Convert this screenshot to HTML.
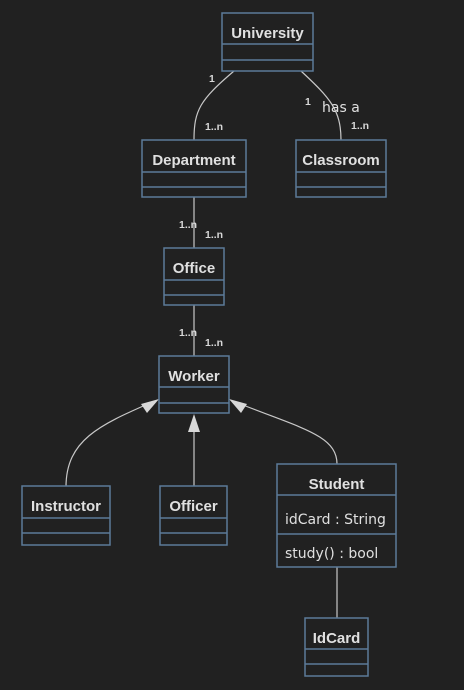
<!DOCTYPE html>
<html><head><meta charset="utf-8"><style>
html,body{margin:0;padding:0;background:#212121;}
svg{display:block}
.b{fill:#212121;stroke:#5c7b99;stroke-width:1.5}
.d{stroke:#5c7b99;stroke-width:1.5}
.t{font-family:"Liberation Sans",sans-serif;font-weight:bold;font-size:15px;fill:#e0e0e0;text-anchor:middle}
.m{font-family:"DejaVu Sans","Liberation Sans",sans-serif;font-size:14px;fill:#e0e0e0}
.l{font-family:"Liberation Sans",sans-serif;font-size:10.5px;fill:#d8d8d8;font-weight:bold}
.e{fill:none;stroke:#c8c8c8;stroke-width:1.2}
.a{fill:#d8d8d8;stroke:none}
</style></head><body>
<svg width="464" height="690" viewBox="0 0 464 690">
<path class="e" d="M234,71 C200,100 194,110 194,140"/>
<path class="e" d="M301,71 C330,98 341,110 341,140"/>
<line class="e" x1="194" y1="197" x2="194" y2="248"/>
<line class="e" x1="194" y1="305" x2="194" y2="356"/>
<path class="e" d="M66,487 C66,440 100,425 150,403"/>
<line class="e" x1="194" y1="487" x2="194" y2="430"/>
<path class="e" d="M337,464 C337,435 300,428 238,403"/>
<line class="e" x1="337" y1="567" x2="337" y2="618"/>
<polygon class="a" points="159,399 141,404 147,413"/>
<polygon class="a" points="194,414 188,432 200,432"/>
<polygon class="a" points="229,399 241,413 247,404"/>
<text class="l" x="209" y="82">1</text>
<text class="l" x="205" y="130">1..n</text>
<text class="l" x="305" y="105">1</text>
<text class="m" x="322" y="112">has a</text>
<text class="l" x="351" y="129">1..n</text>
<text class="l" x="179" y="228">1..n</text>
<text class="l" x="205" y="238">1..n</text>
<text class="l" x="179" y="336">1..n</text>
<text class="l" x="205" y="346">1..n</text>
<rect class="b" x="222" y="13" width="91" height="58"/><line class="d" x1="222" y1="44" x2="313" y2="44"/><line class="d" x1="222" y1="60" x2="313" y2="60"/><text class="t" x="267.5" y="38">University</text>
<rect class="b" x="142" y="140" width="104" height="57"/><line class="d" x1="142" y1="172" x2="246" y2="172"/><line class="d" x1="142" y1="187" x2="246" y2="187"/><text class="t" x="194" y="165">Department</text>
<rect class="b" x="296" y="140" width="90" height="57"/><line class="d" x1="296" y1="172" x2="386" y2="172"/><line class="d" x1="296" y1="187" x2="386" y2="187"/><text class="t" x="341" y="165">Classroom</text>
<rect class="b" x="164" y="248" width="60" height="57"/><line class="d" x1="164" y1="280" x2="224" y2="280"/><line class="d" x1="164" y1="295" x2="224" y2="295"/><text class="t" x="194" y="273">Office</text>
<rect class="b" x="159" y="356" width="70" height="57"/><line class="d" x1="159" y1="387" x2="229" y2="387"/><line class="d" x1="159" y1="403" x2="229" y2="403"/><text class="t" x="194" y="381">Worker</text>
<rect class="b" x="22" y="486" width="88" height="59"/><line class="d" x1="22" y1="518" x2="110" y2="518"/><line class="d" x1="22" y1="533" x2="110" y2="533"/><text class="t" x="66" y="511">Instructor</text>
<rect class="b" x="160" y="486" width="67" height="59"/><line class="d" x1="160" y1="518" x2="227" y2="518"/><line class="d" x1="160" y1="533" x2="227" y2="533"/><text class="t" x="193.5" y="511">Officer</text>
<rect class="b" x="277" y="464" width="119" height="103"/><line class="d" x1="277" y1="495" x2="396" y2="495"/><line class="d" x1="277" y1="534" x2="396" y2="534"/><text class="t" x="336.5" y="489">Student</text>
<text class="m" x="285" y="524">idCard : String</text>
<text class="m" x="285" y="558">study() : bool</text>
<rect class="b" x="305" y="618" width="63" height="58"/><line class="d" x1="305" y1="649" x2="368" y2="649"/><line class="d" x1="305" y1="664" x2="368" y2="664"/><text class="t" x="336.5" y="643">IdCard</text>
</svg>
</body></html>
